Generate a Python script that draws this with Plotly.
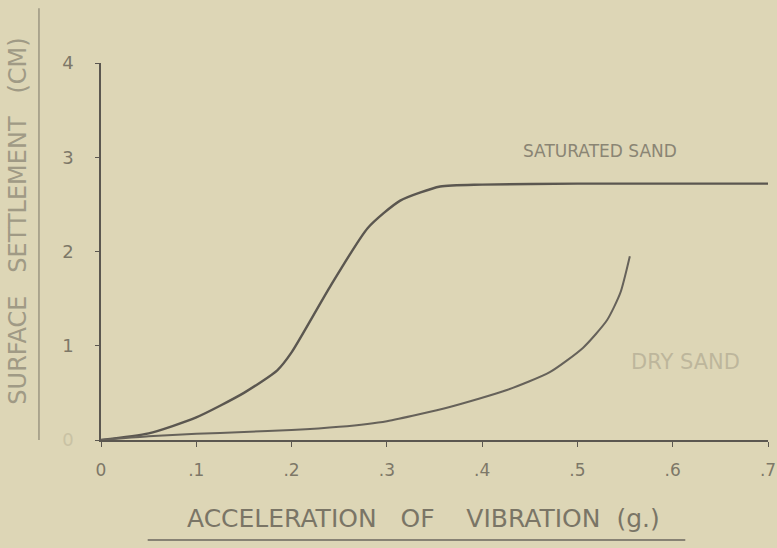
import plotly.graph_objects as go

# Data
sat_x = [0, 0.05, 0.1, 0.15, 0.185, 0.2, 0.24, 0.28, 0.314, 0.356, 0.4, 0.5, 0.6, 0.7]
sat_y = [0, 0.07, 0.24, 0.5, 0.74, 0.93, 1.62, 2.25, 2.54, 2.69, 2.71, 2.72, 2.72, 2.72]

dry_x = [0, 0.05, 0.1, 0.15, 0.2, 0.25, 0.3, 0.366, 0.426, 0.471, 0.506, 0.531, 0.545, 0.555]
dry_y = [0, 0.04, 0.065, 0.085, 0.105, 0.14, 0.2, 0.35, 0.53, 0.72, 0.98, 1.27, 1.56, 1.95]

x_ticks = [0, 0.1, 0.2, 0.3, 0.4, 0.5, 0.6, 0.7]
x_tick_text = ["0", ".1", ".2", ".3", ".4", ".5", ".6", ".7"]
y_ticks = [0, 1, 2, 3, 4]
y_tick_text = ["<span style='color:#c9c2a4'>0</span>", "1", "2", "3", "4"]

BG = "#ddd6b6"
INK = "#5b5750"
TXT = "#7d7868"
FONT = "DejaVu Sans"

fig = go.Figure()
fig.add_trace(go.Scatter(x=sat_x, y=sat_y, mode="lines", name="Saturated Sand",
                         line=dict(color=INK, width=2.4, shape="spline", smoothing=0.6)))
fig.add_trace(go.Scatter(x=dry_x, y=dry_y, mode="lines", name="Dry Sand",
                         line=dict(color="#66625a", width=2, shape="spline", smoothing=0.6)))

fig.update_layout(
    width=777, height=548,
    paper_bgcolor=BG, plot_bgcolor=BG,
    margin=dict(l=101, r=9, t=63, b=108, autoexpand=False),
    showlegend=False,
    font=dict(family=FONT, color=TXT),
    xaxis=dict(range=[0, 0.7], tickvals=x_ticks, ticktext=x_tick_text, automargin=False,
               showgrid=False, zeroline=False, showline=True, linecolor=INK, linewidth=2.4,
               ticks="outside", ticklen=5, tickcolor=INK, tickwidth=1,
               tickfont=dict(size=17, color=TXT), ticklabelstandoff=8),
    yaxis=dict(range=[0, 4], tickvals=y_ticks, ticktext=y_tick_text, automargin=False,
               showgrid=False, zeroline=False, showline=True, linecolor=INK, linewidth=1.6,
               ticks="outside", ticklen=4, tickcolor=INK, tickwidth=1,
               tickfont=dict(size=18, color=TXT), ticklabelstandoff=18),
    annotations=[
        dict(x=0.524, y=3.07, xref="x", yref="y", text="SATURATED SAND", showarrow=False,
             xanchor="center", yanchor="middle",
             font=dict(size=17, color="#8a8574")),
        dict(x=0.613, y=0.83, xref="x", yref="y", text="DRY SAND", showarrow=False,
             xanchor="center", yanchor="middle",
             font=dict(size=21, color="#bdb69c")),
        dict(x=0.484, y=-0.207, xref="paper", yref="paper",
             text="ACCELERATION&nbsp;&nbsp; OF&nbsp;&nbsp;&nbsp; VIBRATION&nbsp; (g.)",
             showarrow=False, xanchor="center", yanchor="middle",
             font=dict(size=25, color="#7a7566")),
        dict(x=-0.124, y=0.58, xref="paper", yref="paper",
             text="SURFACE&nbsp;&nbsp; SETTLEMENT&nbsp;&nbsp; (CM)",
             showarrow=False, textangle=-90, xanchor="center", yanchor="middle",
             font=dict(size=24, color="#a09a85")),
    ],
    shapes=[
        dict(type="line", xref="paper", yref="paper", x0=0.07, x1=0.876, y0=-0.265, y1=-0.265,
             line=dict(color="#6a665e", width=1.5)),
        dict(type="line", xref="paper", yref="paper", x0=-0.093, x1=-0.093, y0=0.0, y1=1.145,
             line=dict(color="#8a8574", width=1.2)),
    ],
)

fig.write_html(
    "out.html",
    config={"displayModeBar": False},
    post_script="document.body.style.margin='0';document.body.style.background='#ddd6b6';",
)
